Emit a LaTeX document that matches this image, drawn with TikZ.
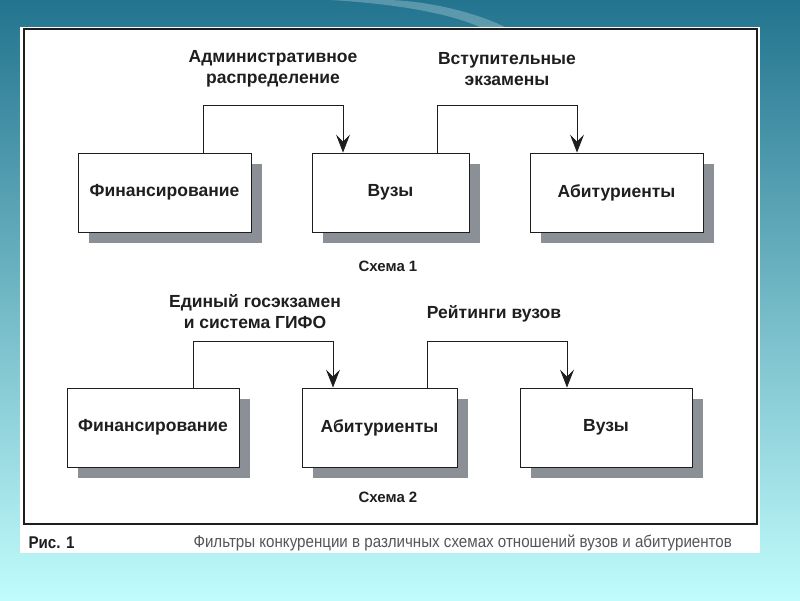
\documentclass[tikz,border=0pt]{standalone}
\usepackage{fontspec}
\setmainfont{Liberation Sans}
\newfontfamily\narrowfont[FakeStretch=0.89]{Liberation Sans}
\usetikzlibrary{arrows.meta,shadows}
\definecolor{bgtop}{HTML}{23748F}
\definecolor{bgmid}{HTML}{78A8B0}
\definecolor{bgbottom}{HTML}{C0FCFC}
\definecolor{shadowgray}{HTML}{8B8F96}
\definecolor{ink}{HTML}{1E1E1E}
\definecolor{captiongray}{HTML}{555555}

\begin{document}
\begin{tikzpicture}[x=1pt, y=-1pt,
     font=\bfseries\fontsize{17.5}{21.5}\selectfont,
     text=ink,
     box/.style={draw=ink, line width=0.9pt, fill=white, minimum height=79pt,
        drop shadow={shadow xshift=11pt, shadow yshift=-11pt, fill=shadowgray, opacity=1}},
     flow/.style={draw=ink, line width=0.9pt, -{Stealth[length=18pt,width=14pt,inset=7pt]}},
     filter/.style={align=center}]
\useasboundingbox (0,0) rectangle (800,600);
\shade[top color=bgtop, middle color=bgmid, bottom color=bgbottom] (0,0) rectangle (800,600);
\fill[white, opacity=0.25] (330,0) .. controls (400,4) and (450,14) .. (480,27)
     -- (505,27) .. controls (470,10) and (420,0) .. (385,0) -- cycle;
\fill[white] (20,27) rectangle (760,553);
\draw[ink, line width=1.5pt] (24,29) rectangle (757,524);
% scheme 1
\foreach \name/\x/\w/\txt in {fina/164.5/173/Финансирование, univa/390.5/157/Вузы, appla/616.5/173/Абитуриенты}
    \node[box, minimum width=\w pt] (\name) at (\x,192.5) {\txt};
\node[filter] (admin) at (273,69) {Административное\\распределение};
\node[filter] (exams) at (507,69) {Вступительные\\экзамены};
\node[font=\bfseries\fontsize{15}{17}\selectfont] (schemea) at (388,266) {Схема 1};
\draw[flow] ([xshift=38.5pt]fina.north) -- ++(0,-47) -| ([xshift=-47.5pt]univa.north);
\draw[flow] ([xshift=46.5pt]univa.north) -- ++(0,-47) -| ([xshift=-39.5pt]appla.north);
% scheme 2
\foreach \name/\x/\w/\txt in {finb/153/172/Финансирование, applb/379.5/155/Абитуриенты, univb/606/172/Вузы}
    \node[box, minimum width=\w pt] (\name) at (\x,427.5) {\txt};
\node[filter] (exam) at (255,311.5) {Единый госэкзамен\\и система ГИФО};
\node[filter] (rating) at (494,314) {Рейтинги вузов};
\node[font=\bfseries\fontsize{15}{17}\selectfont] (schemeb) at (388,497) {Схема 2};
\draw[flow] ([xshift=40pt]finb.north) -- ++(0,-46) -| ([xshift=-46.5pt]applb.north);
\draw[flow] ([xshift=47.5pt]applb.north) -- ++(0,-46) -| ([xshift=-39pt]univb.north);
% caption
\node[font=\narrowfont\bfseries\fontsize{17}{19}\selectfont, anchor=west] (fig) at (25,543) {Рис. 1};
\node[font=\narrowfont\fontsize{17}{19}\selectfont, text=captiongray, anchor=west] (title) at (190,543)
    {Фильтры конкуренции в различных схемах отношений вузов и абитуриентов};
\end{tikzpicture}
\end{document}
